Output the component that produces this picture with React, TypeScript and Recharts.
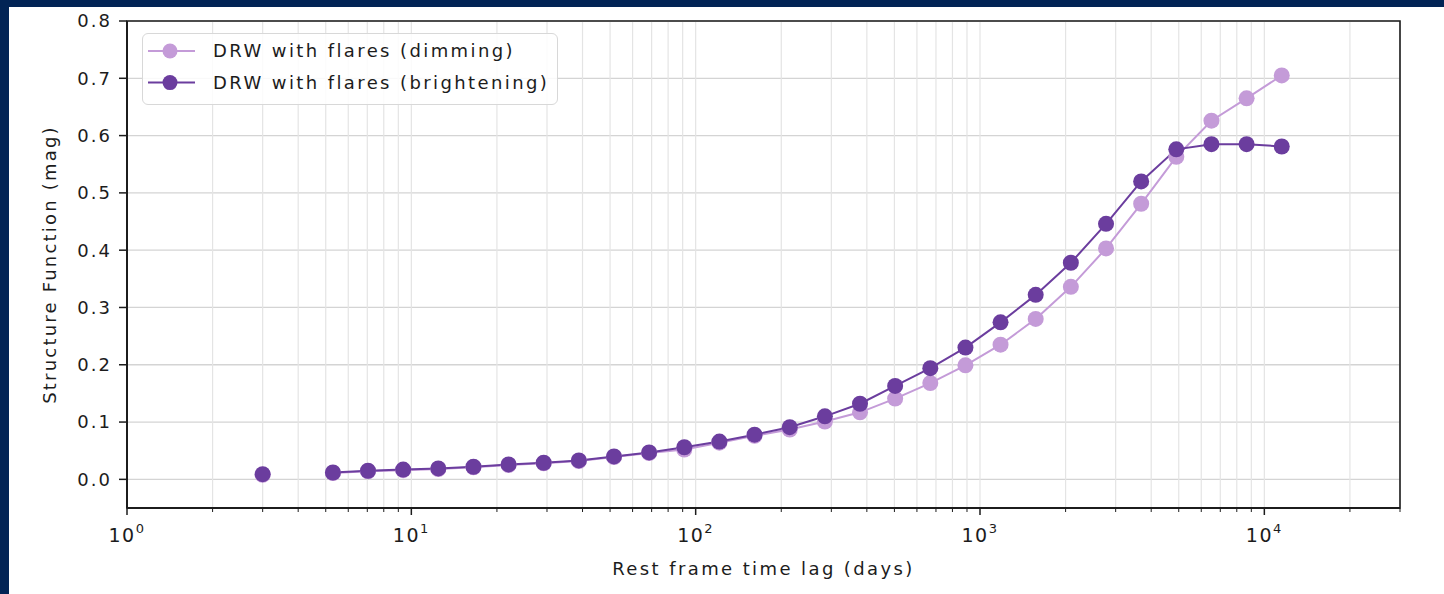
import { LineChart, Line, XAxis, YAxis, CartesianGrid, Legend, ReferenceArea } from 'recharts'

// rest-frame lag bins (days); the 4-day bin is empty
const lagDays = [
  3.0, 3.99, 5.3, 7.04, 9.36, 12.44, 16.54, 21.98, 29.21, 38.83, 51.61, 68.6, 91.2, 121.2, 161.1,
  214.2, 284.7, 378.4, 503, 668.7, 888.8, 1181, 1570, 2087, 2775, 3688, 4902, 6516, 8662, 11514,
]

const dimming = [
  0.008, null, 0.011, 0.014, 0.016, 0.018, 0.021, 0.025, 0.028, 0.032, 0.039, 0.046, 0.052, 0.064, 0.076,
  0.087, 0.101, 0.117, 0.141, 0.168, 0.199, 0.235, 0.28, 0.336, 0.403, 0.481, 0.563, 0.626, 0.665, 0.705,
]

const brightening = [
  0.009, null, 0.012, 0.015, 0.017, 0.019, 0.022, 0.026, 0.029, 0.033, 0.04, 0.047, 0.056, 0.066, 0.078,
  0.091, 0.11, 0.132, 0.163, 0.194, 0.23, 0.274, 0.322, 0.378, 0.446, 0.52, 0.576, 0.585, 0.585, 0.581,
]

const seriesNames = ['DRW with flares (dimming)', 'DRW with flares (brightening)']

const yTicks = [0, 0.1, 0.2, 0.3, 0.4, 0.5, 0.6, 0.7, 0.8]
const decades = [1, 10, 100, 1000, 10000]

// log axis ticks: decades plus 2..9 in between, up to 3e4
const xTicks = decades
  .flatMap((d) => [1, 2, 3, 4, 5, 6, 7, 8, 9].map((m) => m * d))
  .filter((v) => v <= 30000)

const LIGHT = '#c49bd8'
const DARK = '#6b3d9e'
const INK = '#1c1c1c'
const FONT = '"DejaVu Sans", sans-serif'

const rows = lagDays.map((lag, i) => ({ lag, dimming: dimming[i], brightening: brightening[i] }))

const legendItems = [
  { name: seriesNames[0], color: LIGHT },
  { name: seriesNames[1], color: DARK },
]

function LagTick({ x, y, payload }: any) {
  const v = payload.value as number
  const exp = Math.round(Math.log10(v))
  const major = Math.abs(Math.log10(v) - exp) < 1e-6
  return (
    <g>
      <line x1={x} x2={x} y1={y} y2={y + (major ? 7 : 4)} stroke={INK} strokeWidth={major ? 1.5 : 1} />
      {major && (
        <text x={x} y={y + 34} textAnchor="middle" fill={INK} fontFamily={FONT} fontSize={19} letterSpacing={1.5}>
          <tspan>10</tspan>
          <tspan dy={-9} fontSize={13}>{exp}</tspan>
        </text>
      )}
    </g>
  )
}

function LegendBox() {
  return (
    <div
      style={{
        width: 416,
        height: 72,
        boxSizing: 'border-box',
        border: '1.5px solid #d8d8d8',
        borderRadius: 6,
        background: 'rgba(255,255,255,0.85)',
      }}
    >
      <svg width={413} height={69}>
        {legendItems.map((item, i) => {
          const cy = 17 + i * 31.6
          return (
            <g key={item.name}>
              <line x1={5} x2={52} y1={cy} y2={cy} stroke={item.color} strokeWidth={2} />
              <circle cx={27} cy={cy} r={7.5} fill={item.color} />
              <text x={70} y={cy + 6} fill={INK} fontFamily={FONT} fontSize={18} letterSpacing={2.4}>
                {item.name}
              </text>
            </g>
          )
        })}
      </svg>
    </div>
  )
}

export default function App() {
  return (
    <div style={{ position: 'absolute', left: 0, top: 0, width: 1444, height: 594, background: '#022455' }}>
      <div style={{ position: 'absolute', left: 9, top: 7, width: 1435, height: 587, background: '#ffffff' }}>
        <LineChart width={1435} height={587} data={rows} margin={{ top: 14, right: 44, bottom: 6, left: 0 }}>
          <CartesianGrid vertical={false} stroke="#d4d4d4" strokeWidth={1.3} />
          <CartesianGrid horizontal={false} stroke="#e4e4e4" strokeWidth={1.2} />
          <XAxis
            dataKey="lag"
            type="number"
            scale="log"
            domain={[1, 30000]}
            ticks={xTicks}
            interval={0}
            height={80}
            tickSize={0}
            tickMargin={0}
            tickLine={false}
            axisLine={{ stroke: INK, strokeWidth: 2 }}
            tick={(props: any) => <LagTick {...props} />}
            label={{
              content: ({ viewBox }: any) => (
                <text
                  x={viewBox.x + viewBox.width / 2}
                  y={viewBox.y + 67}
                  textAnchor="middle"
                  fill={INK}
                  fontFamily={FONT}
                  fontSize={18}
                  letterSpacing={2.4}
                >
                  Rest frame time lag (days)
                </text>
              ),
            }}
          />
          <YAxis
            type="number"
            domain={[-0.05, 0.8]}
            ticks={yTicks}
            width={118}
            tickSize={8}
            tickMargin={7}
            axisLine={{ stroke: INK, strokeWidth: 2 }}
            tickLine={{ stroke: INK, strokeWidth: 1.5 }}
            tickFormatter={(v: number) => v.toFixed(1)}
            tick={{ fill: INK, fontSize: 18, fontFamily: FONT, letterSpacing: 2 }}
            label={{
              content: ({ viewBox }: any) => {
                const lx = viewBox.x + 47
                const ly = viewBox.y + viewBox.height / 2
                return (
                  <text
                    x={lx}
                    y={ly}
                    transform={`rotate(-90 ${lx} ${ly})`}
                    textAnchor="middle"
                    fill={INK}
                    fontFamily={FONT}
                    fontSize={18}
                    letterSpacing={2.2}
                  >
                    Structure Function (mag)
                  </text>
                )
              },
            }}
          />
          <ReferenceArea x1={1} x2={30000} y1={-0.05} y2={0.8} fill="none" stroke={INK} strokeWidth={1.6} />
          <Line
            dataKey="dimming"
            name={seriesNames[0]}
            stroke={LIGHT}
            strokeWidth={2}
            dot={{ r: 8, fill: LIGHT, stroke: LIGHT, strokeWidth: 0 }}
            connectNulls={false}
            isAnimationActive={false}
          />
          <Line
            dataKey="brightening"
            name={seriesNames[1]}
            stroke={DARK}
            strokeWidth={2}
            dot={{ r: 8, fill: DARK, stroke: DARK, strokeWidth: 0 }}
            connectNulls={false}
            isAnimationActive={false}
          />
          <Legend
            layout="vertical"
            align="center"
            verticalAlign="middle"
            content={() => <LegendBox />}
            wrapperStyle={{ left: 133, top: 26, width: 416, height: 72 }}
          />
        </LineChart>
      </div>
    </div>
  )
}
